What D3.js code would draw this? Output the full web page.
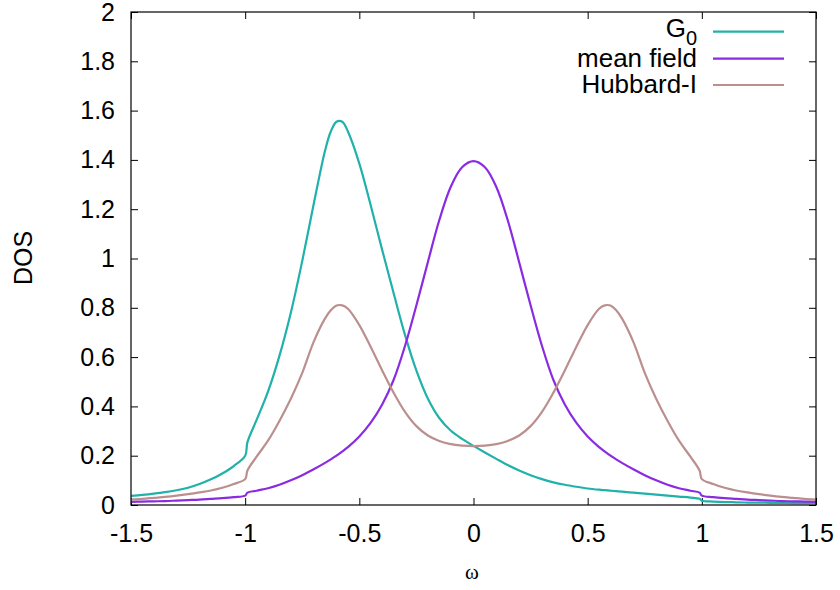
<!DOCTYPE html>
<html><head><meta charset="utf-8">
<script src="https://cdn.jsdelivr.net/npm/d3@7"></script>
<style>body{margin:0;background:#fff}</style>
</head><body>
<svg id="c" width="840" height="590"></svg>
<script>
const omega = [-1.5,-1.45,-1.4,-1.35,-1.3,-1.25,-1.2,-1.15,-1.1,-1.05,-1.0,-0.99,
 -0.95,-0.9,-0.85,-0.8,-0.75,-0.7,-0.65,-0.625,-0.6,-0.575,-0.55,-0.5,-0.45,-0.4,-0.35,-0.3,-0.25,-0.2,-0.15,-0.1,-0.05,
 0,
 0.05,0.1,0.15,0.2,0.25,0.3,0.35,0.4,0.45,0.5,0.55,0.575,0.6,0.625,0.65,0.7,0.75,0.8,0.85,0.9,0.95,
 0.99,1.0,1.05,1.1,1.15,1.2,1.25,1.3,1.35,1.4,1.45,1.5];

const g0 = [0.037,0.041,0.046,0.052,0.06,0.07,0.085,0.104,0.128,0.158,0.2,0.255,
 0.345,0.46,0.605,0.78,0.99,1.22,1.438,1.515,1.555,1.555,1.515,1.385,1.215,1.035,0.86,0.69,0.545,0.432,0.353,0.302,0.268,
 0.24,
 0.213,0.187,0.162,0.14,0.121,0.105,0.092,0.082,0.074,0.067,0.062,0.06,0.058,0.056,0.054,0.05,0.046,0.042,0.038,0.034,0.03,
 0.025,0.017,0.014,0.012,0.011,0.01,0.0095,0.009,0.0085,0.008,0.0075,0.007];

const meanField = [0.013,0.014,0.015,0.016,0.018,0.02,0.022,0.025,0.028,0.032,0.038,0.05,
 0.058,0.068,0.082,0.1,0.121,0.145,0.171,0.185,0.2,0.217,0.235,0.278,0.334,0.408,0.507,0.645,0.81,0.985,1.155,1.29,1.37,
 1.395,
 1.37,1.29,1.155,0.985,0.81,0.645,0.507,0.408,0.334,0.278,0.235,0.217,0.2,0.185,0.171,0.145,0.121,0.1,0.082,0.068,0.058,
 0.05,0.038,0.032,0.028,0.025,0.022,0.02,0.018,0.016,0.015,0.014,0.013];

const hubbardI = [0.022,0.025,0.029,0.033,0.038,0.044,0.051,0.059,0.07,0.085,0.105,0.14,
 0.196,0.261,0.341,0.431,0.536,0.662,0.757,0.79,0.809,0.81,0.796,0.73,0.641,0.546,0.456,0.378,0.32,0.282,0.26,0.247,0.241,
 0.239,
 0.241,0.247,0.26,0.282,0.32,0.378,0.456,0.546,0.641,0.73,0.796,0.81,0.809,0.79,0.757,0.662,0.536,0.431,0.341,0.261,0.196,
 0.14,0.105,0.085,0.07,0.059,0.051,0.044,0.038,0.033,0.029,0.025,0.022];

const xTicks = [-1.5,-1,-0.5,0,0.5,1,1.5];
const xTickLabels = ["-1.5","-1","-0.5","0","0.5","1","1.5"];
const yTicks = [0,0.2,0.4,0.6,0.8,1,1.2,1.4,1.6,1.8,2];
const yTickLabels = ["0","0.2","0.4","0.6","0.8","1","1.2","1.4","1.6","1.8","2"];
const seriesNames = ["G","mean field","Hubbard-I"];
const seriesSubs = ["0","",""];
const seriesColors = ["#20b2aa","#8a2be2","#bc8f8f"];

const L = 131, R = 816, T = 12, B = 505;
const x = d3.scaleLinear().domain([-1.5,1.5]).range([L,R]);
const y = d3.scaleLinear().domain([0,2]).range([B,T]);
const svg = d3.select("#c");
const font = "'Liberation Sans', Arial, Helvetica, sans-serif";

function styleAxis(g){
  g.select(".domain").remove();
  g.selectAll(".tick line").attr("stroke","#000").attr("stroke-width",1);
  g.selectAll(".tick text").attr("fill","#000").style("font-family",font).style("font-size","25px");
}

svg.append("g").attr("transform",`translate(0,${B})`)
  .call(d3.axisBottom(x).tickValues(xTicks).tickFormat((d,i)=>xTickLabels[i]).tickSizeInner(-7).tickSizeOuter(0).tickPadding(19))
  .call(styleAxis);
svg.append("g").attr("transform",`translate(0,${T})`)
  .call(d3.axisTop(x).tickValues(xTicks).tickFormat("").tickSizeInner(-7).tickSizeOuter(0))
  .call(styleAxis);
svg.append("g").attr("transform",`translate(${L},0)`)
  .call(d3.axisLeft(y).tickValues(yTicks).tickFormat((d,i)=>yTickLabels[i]).tickSizeInner(-7).tickSizeOuter(0).tickPadding(16))
  .call(styleAxis);
svg.append("g").attr("transform",`translate(${R},0)`)
  .call(d3.axisRight(y).tickValues(yTicks).tickFormat("").tickSizeInner(-7).tickSizeOuter(0))
  .call(styleAxis);

const series = [g0, meanField, hubbardI];
const line = d3.line().x(d=>x(d[0])).y(d=>y(d[1])).curve(d3.curveCatmullRom.alpha(0.5));
const plot = svg.append("g");
series.forEach((vals,i)=>{
  plot.append("path").datum(omega.map((w,j)=>[w,vals[j]]))
    .attr("d",line).attr("fill","none").attr("stroke",seriesColors[i])
    .attr("stroke-width",2.2).attr("stroke-linejoin","round");
});

svg.append("rect").attr("x",L).attr("y",T).attr("width",R-L).attr("height",B-T)
  .attr("fill","none").attr("stroke","#000").attr("stroke-width",1.2);

// legend
const legY = [31.7,58.7,85];
seriesNames.forEach((n,i)=>{
  const t = svg.append("text").attr("x",697).attr("y",legY[i]+8).attr("text-anchor","end")
    .style("font-family",font).style("font-size","26px").attr("fill","#000");
  if(seriesSubs[i]){
    t.append("tspan").attr("dy",-3).text(n);
    t.append("tspan").attr("dy",8).style("font-size","20px").text(seriesSubs[i]);
  } else t.text(n);
  svg.append("line").attr("x1",713).attr("x2",784).attr("y1",legY[i]).attr("y2",legY[i])
    .attr("stroke",seriesColors[i]).attr("stroke-width",2.2);
});

svg.append("text").attr("transform","translate(32,258) rotate(-90)").attr("text-anchor","middle")
  .style("font-family",font).style("font-size","25px").text("DOS");
svg.append("text").attr("x",472).attr("y",579).attr("text-anchor","middle")
  .style("font-family","'Liberation Serif', 'DejaVu Serif', serif").style("font-size","21px").text("ω");
</script>
</body></html>
